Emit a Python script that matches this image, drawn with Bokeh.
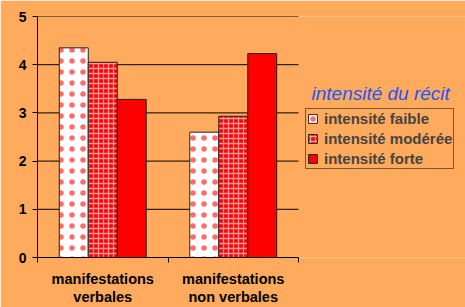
from bokeh.plotting import figure
from bokeh.models import (Range1d, FixedTicker, Legend, LegendItem, Label)
from bokeh.embed import file_html
from bokeh.resources import INLINE

categories = ["manifestations\nverbales", "manifestations\nnon verbales"]
series = ["intensité faible", "intensité modérée", "intensité forte"]
faible = [4.35, 2.60]
moderee = [4.05, 2.93]
forte = [3.28, 4.23]
yticks = [0, 1, 2, 3, 4, 5]
legend_title = "intensité du récit"

BG = "#FFAA5C"
FONT = "Liberation Sans"

n = len(categories)
PLOT_W = 261   # pixel width of the category area
FRAME_W = 428  # frame spans to the right edge so the legend is not clipped

p = figure(width=465, height=307, output_backend="svg", toolbar_location=None,
           x_range=Range1d(0, n * FRAME_W / PLOT_W), y_range=Range1d(0, 5),
           min_border_left=37, min_border_right=0, min_border_top=16,
           min_border_bottom=50)
p.background_fill_color = BG
p.border_fill_color = BG
p.outline_line_color = None

# horizontal grid lines limited to the category area
p.segment(x0=[0] * (len(yticks) - 1), x1=[n] * (len(yticks) - 1),
          y0=yticks[1:], y1=yticks[1:], line_color="black", line_width=1)

w = 0.222
offsets = [-w, 0, w]
vals = [faible, moderee, forte]
styles = [
    dict(fill_color="white", hatch_pattern="dot", hatch_color="#FF5A5A", hatch_scale=11,
         hatch_weight=0.6, hatch_alpha=0.9),
    dict(fill_color="red", hatch_pattern="cross", hatch_color="white", hatch_alpha=0.6,
         hatch_scale=5, hatch_weight=1.3),
    dict(fill_color="red"),
]
renderers = []
for off, v, st in zip(offsets, vals, styles):
    xs = [i + 0.5 + off for i in range(n)]
    r = p.vbar(x=xs, top=v, width=w, bottom=0, line_color="#222222", line_width=1, **st)
    renderers.append(r)

# x axis
p.xaxis.bounds = (0, n)
p.xaxis.ticker = FixedTicker(ticks=[i + 0.5 for i in range(n)],
                             minor_ticks=list(range(n + 1)))
p.xaxis.major_label_overrides = {i + 0.5: c for i, c in enumerate(categories)}
p.xaxis.major_tick_line_color = None
p.xaxis.minor_tick_line_color = "black"
p.xaxis.minor_tick_out = 5
p.xaxis.minor_tick_in = 0
p.xaxis.axis_line_color = "black"
p.xaxis.major_label_text_font = FONT
p.xaxis.major_label_text_font_style = "bold"
p.xaxis.major_label_text_font_size = "14.5px"
p.xaxis.major_label_text_color = "black"
p.xaxis.major_label_text_line_height = 1.15
p.xaxis.major_label_standoff = 7
p.xgrid.grid_line_color = None
p.ygrid.grid_line_color = None

# y axis
p.yaxis.ticker = FixedTicker(ticks=yticks)
p.yaxis.minor_tick_line_color = None
p.yaxis.major_tick_out = 5
p.yaxis.major_tick_in = 0
p.yaxis.axis_line_color = "black"
p.yaxis.major_tick_line_color = "black"
p.yaxis.major_label_text_font = FONT
p.yaxis.major_label_text_font_style = "bold"
p.yaxis.major_label_text_font_size = "14px"
p.yaxis.major_label_text_color = "black"
p.yaxis.major_label_standoff = 6

legend = Legend(items=[LegendItem(label=s, renderers=[r]) for s, r in zip(series, renderers)],
                location=(268, 88))
legend.border_line_color = "black"
legend.background_fill_color = BG
legend.background_fill_alpha = 1
legend.label_text_font = FONT
legend.label_text_font_style = "bold"
legend.label_text_font_size = "15px"
legend.glyph_width = 11
legend.glyph_height = 11
legend.label_standoff = 6
legend.padding = 1
legend.spacing = 3
legend.margin = 0
legend.label_height = 16
p.add_layout(legend, "center")

title = Label(x=274, y=164, x_units="screen", y_units="screen", text=legend_title,
              text_font=FONT, text_font_style="italic", text_font_size="19px",
              text_color="#1F55F5", text_baseline="alphabetic")
p.add_layout(title)

open("out.html", "w").write(file_html(p, INLINE))
